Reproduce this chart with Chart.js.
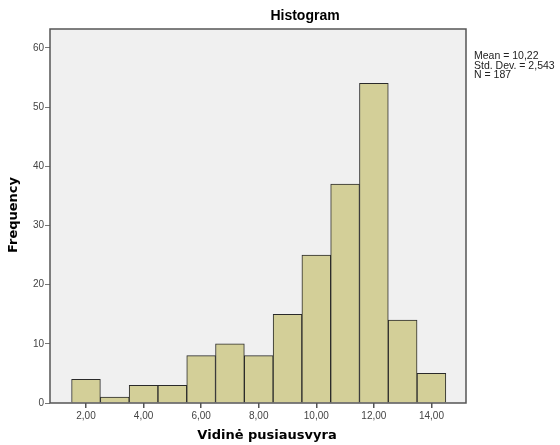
<!DOCTYPE html>
<html>
<head>
<meta charset="utf-8">
<script src="https://cdn.jsdelivr.net/npm/chart.js@4/dist/chart.umd.min.js"></script>
<style>
  html, body { margin: 0; padding: 0; background: #fff; }
  #wrap { width: 560px; height: 445px; position: relative; }
</style>
</head>
<body>
<div id="wrap"><canvas id="hist"></canvas></div>
<script>
// histogram bins (bin centers) and counts
const binCenters = [2, 3, 4, 5, 6, 7, 8, 9, 10, 11, 12, 13, 14];
const counts = [4, 1, 3, 3, 8, 10, 8, 15, 25, 37, 54, 14, 5];
const xTicks = [2, 4, 6, 8, 10, 12, 14];
const yTicks = [0, 10, 20, 30, 40, 50, 60];
const statsLines = ["Mean = 10,22", "Std. Dev. = 2,543", "N = 187"];

const fmt = (v) => v.toFixed(2).replace(".", ",");

// titles, frame and stats box drawn on top
const decorations = {
  id: "decorations",
  afterDraw(chart) {
    const ctx = chart.ctx;
    const a = chart.chartArea;
    ctx.save();
    // frame
    ctx.strokeStyle = "#555";
    ctx.lineWidth = 1.5;
    ctx.strokeRect(a.left, a.top, a.right - a.left, a.bottom - a.top);

    ctx.fillStyle = "#000";
    ctx.font = "bold 14px Arial, 'Liberation Sans', sans-serif";
    ctx.textAlign = "center";
    ctx.textBaseline = "middle";
    ctx.fillText("Histogram", 305, 16);

    ctx.font = "bold 13px 'DejaVu Sans', Verdana, sans-serif";
    ctx.fillText("Vidinė pusiausvyra", 267, 436);

    ctx.translate(14, 215);
    ctx.rotate(-Math.PI / 2);
    ctx.fillText("Frequency", 0, 0);
    ctx.restore();

    ctx.save();
    ctx.fillStyle = "#222";
    ctx.font = "10.5px Arial, 'Liberation Sans', sans-serif";
    ctx.textAlign = "left";
    ctx.textBaseline = "alphabetic";
    statsLines.forEach((s, i) => ctx.fillText(s, 474, 59 + i * 9.6));
    ctx.restore();
  }
};

const plotBg = {
  id: "plotBg",
  beforeDraw(chart) {
    const a = chart.chartArea;
    chart.ctx.save();
    chart.ctx.fillStyle = "#f0f0f0";
    chart.ctx.fillRect(a.left, a.top, a.right - a.left, a.bottom - a.top);
    chart.ctx.restore();
  }
};

new Chart(document.getElementById("hist").getContext("2d"), {
  type: "bar",
  data: {
    datasets: [{
      label: "Frequency",
      data: binCenters.map((x, i) => ({ x: x, y: counts[i] })),
      backgroundColor: "#d3cf98",
      borderColor: "#2a2a2a",
      borderWidth: 1,
      barPercentage: 1,
      categoryPercentage: 1
    }]
  },
  options: {
    responsive: true,
    maintainAspectRatio: false,
    animation: false,
    layout: { padding: { left: 0, right: 94, top: 29, bottom: 0 } },
    plugins: { legend: { display: false }, tooltip: { enabled: false }, title: { display: false } },
    scales: {
      x: {
        type: "linear",
        offset: false,
        min: 0.75,
        max: 15.2,
        afterFit: (s) => { s.height = 42; },
        afterBuildTicks: (s) => { s.ticks = xTicks.map(v => ({ value: v })); },
        grid: { offset: false, drawOnChartArea: false, drawTicks: true, tickLength: 5, color: "#555", lineWidth: 1.5 },
        border: { display: false },
        ticks: { color: "#444", font: { size: 10, family: "Arial" }, padding: 2, callback: (v) => fmt(v), maxRotation: 0 }
      },
      y: {
        min: 0,
        max: 63.2,
        afterFit: (s) => { s.width = 50; },
        afterBuildTicks: (s) => { s.ticks = yTicks.map(v => ({ value: v })); },
        grid: { drawOnChartArea: false, drawTicks: true, tickLength: 5, color: "#777", lineWidth: 1 },
        border: { display: false },
        ticks: { color: "#444", font: { size: 10, family: "Arial" }, padding: 1 }
      }
    }
  },
  plugins: [plotBg, decorations]
});
</script>
</body>
</html>
